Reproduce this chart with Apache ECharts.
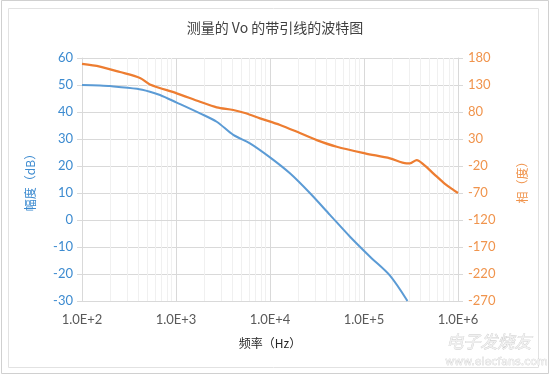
<!DOCTYPE html>
<html>
<head>
<meta charset="utf-8">
<script src="https://cdn.jsdelivr.net/npm/echarts@6/dist/echarts.min.js"></script>
<style>html,body{margin:0;padding:0;background:#fff}#c{width:550px;height:375px}</style>
</head>
<body>
<div id="c"></div>
<script>
// Magnitude (dB) vs frequency (Hz)
const magFreq = [100, 155, 199, 385, 528, 676, 1017, 1800, 2710, 4070, 6120, 10000, 16300, 26700, 43400, 71000, 116000, 189000, 290000];
const magDb   = [50, 49.8, 49.6, 48.6, 47.5, 46.3, 43.5, 39.5, 36.4, 31.5, 28.4, 23.2, 17.3, 9.9, 1.9, -6.2, -13.6, -20.6, -30];
// Phase (deg) vs frequency (Hz)
const phaseFreq = [100, 155, 254, 414, 528, 1017, 1800, 2710, 4070, 5540, 7830, 12800, 20800, 31400, 51300, 102600, 189000, 284000, 308000, 364000, 434500, 556000, 709600, 863000, 1000000];
const phaseDeg  = [169, 164, 154, 143, 131, 114.6, 99, 88.7, 83.7, 77.6, 68.3, 56, 41, 28, 15.7, 3.5, -5.8, -15, -15, -9, -18, -35, -51.5, -62.5, -70];
// Axis ranges
const magMin = -30, magMax = 60, magStep = 10;
const phMin = -270, phMax = 180, phStep = 50;
const freqMin = 100, freqMax = 1000000;
const titleText = '测量的 Vo 的带引线的波特图';
const xName = '频率（Hz）', yLeftName = '幅度（dB）', yRightName = '相（度）';

const minorLines = [];
for (let d = freqMin; d < freqMax; d *= 10) {
  for (let k = 2; k <= 9; k++) minorLines.push({ xAxis: d * k });
}

const chart = echarts.init(document.getElementById('c'), null, { renderer: 'canvas' });
chart.setOption({
  animation: false,
  backgroundColor: '#fff',
  title: {
    text: titleText, left: 'center', top: 16,
    textStyle: { fontFamily: 'Noto Sans CJK SC', fontSize: 14, fontWeight: 'normal', color: '#404040' }
  },
  graphic: [
    { type: 'rect', shape: { x: 1.5, y: 0.5, width: 547, height: 373 }, style: { fill: 'none', stroke: '#d0d0d0', lineWidth: 1 }, silent: true },
    { type: 'rect', shape: { x: 8.5, y: 8.5, width: 530, height: 359 }, style: { fill: 'none', stroke: '#e2e2e2', lineWidth: 1 }, silent: true },
    { type: 'text', left: 446, top: 333, style: { text: '电子发烧友', fill: '#f0f0f0', stroke: '#c8c8c8', lineWidth: 0.6, font: 'italic 17px "Noto Sans CJK SC"' }, silent: true },
    { type: 'text', left: 445, top: 356, style: { text: 'www.elecfans.com', fill: '#f0f0f0', stroke: '#c8c8c8', lineWidth: 0.5, font: '11px "DejaVu Sans"' }, silent: true }
  ],
  grid: { left: 82, right: 92, top: 58, bottom: 74 },
  xAxis: {
    type: 'log', logBase: 10, min: freqMin, max: freqMax,
    name: xName, nameLocation: 'middle', nameGap: 36,
    nameTextStyle: { fontFamily: 'Noto Sans CJK SC', fontSize: 12, color: '#262626' },
    axisLine: { show: true, lineStyle: { color: '#d9d9d9' } },
    axisTick: { show: false },
    axisLabel: {
      margin: 12, fontFamily: 'Lato', fontSize: 13, color: '#595959',
      formatter: v => Number(v).toExponential(1).toUpperCase()
    },
    splitLine: { show: true, lineStyle: { color: '#d9d9d9', width: 1 } }
  },
  yAxis: [
    {
      type: 'value', min: magMin, max: magMax, interval: magStep, position: 'left',
      name: yLeftName, nameLocation: 'middle', nameGap: 46, nameRotate: 90,
      nameTextStyle: { fontFamily: 'Noto Sans CJK SC', fontSize: 12, color: '#3D8BD0' },
      axisLine: { show: true, lineStyle: { color: '#d9d9d9' } },
      axisTick: { show: true, length: 5, lineStyle: { color: '#d9d9d9' } },
      axisLabel: { margin: 9, fontFamily: 'Lato', fontSize: 13, color: '#3D8BD0' },
      splitLine: { show: true, lineStyle: { color: '#d9d9d9' } }
    },
    {
      type: 'value', min: 0, max: phMax - phMin, interval: phStep, position: 'right',
      name: yRightName, nameLocation: 'middle', nameGap: 58, nameRotate: 90,
      nameTextStyle: { fontFamily: 'Noto Sans CJK SC', fontSize: 12, color: '#F0944D' },
      axisLine: { show: true, lineStyle: { color: '#d9d9d9' } },
      axisTick: { show: true, length: 5, lineStyle: { color: '#d9d9d9' } },
      axisLabel: { margin: 10, fontFamily: 'Lato', fontSize: 13, color: '#F0944D', formatter: v => String(v + phMin) },
      splitLine: { show: false }
    }
  ],
  series: [
    {
      type: 'line', data: [], silent: true, z: 0,
      markLine: {
        silent: true, symbol: 'none', label: { show: false }, z: 0,
        lineStyle: { color: '#f0f0f0', width: 1, type: 'solid' },
        data: minorLines, animation: false
      }
    },
    {
      type: 'line', name: 'mag', yAxisIndex: 0, showSymbol: false, smooth: 0.3,
      data: magFreq.map((f, i) => [f, magDb[i]]),
      lineStyle: { color: '#5B9BD5', width: 2 }, itemStyle: { color: '#5B9BD5' }, z: 3
    },
    {
      type: 'line', name: 'phase', yAxisIndex: 1, showSymbol: false, smooth: 0.3,
      data: phaseFreq.map((f, i) => [f, phaseDeg[i] - phMin]),
      lineStyle: { color: '#ED7D31', width: 2.25 }, itemStyle: { color: '#ED7D31' }, z: 3
    }
  ]
});
</script>
</body>
</html>
